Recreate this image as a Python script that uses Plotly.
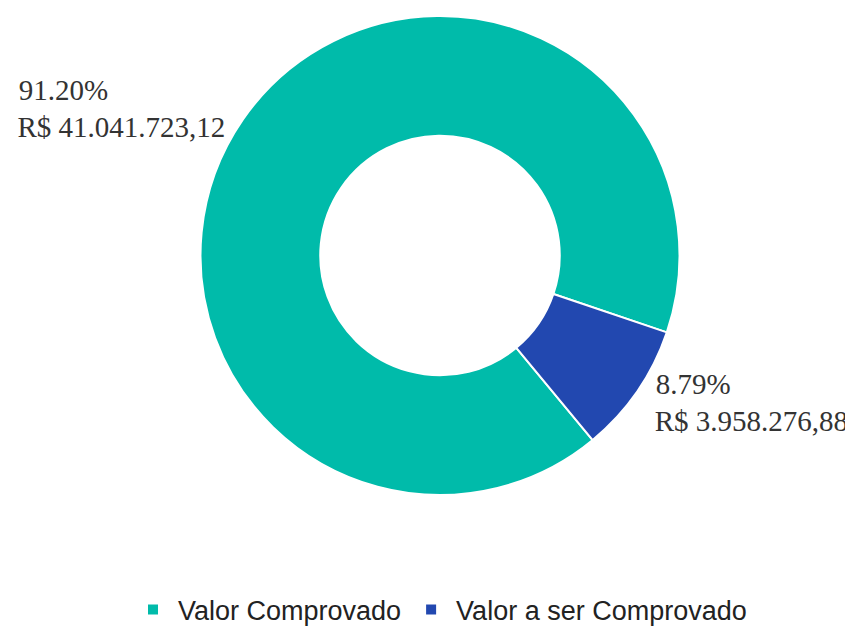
import plotly.graph_objects as go
import math

labels = ["Valor Comprovado", "Valor a ser Comprovado"]
values = [41041723.12, 3958276.88]
colors = ["#00BBAA", "#2248B0"]

total = sum(values)

def brl(v):
    s = f"{v:,.2f}"
    s = s.replace(",", "X").replace(".", ",").replace("X", ".")
    return "R$ " + s

def pct(v):
    p = math.floor(v / total * 10000) / 100
    return f"{p:.2f}%"

PAD = "\u00a0" * 16  # keeps both lines left-aligned
texts = [f"{pct(v)}{PAD}<br>{brl(v)}" for v in values]

fig = go.Figure(go.Pie(
    labels=labels,
    values=values,
    text=texts,
    texttemplate="%{text}",
    textinfo="text",
    textposition="outside",
    hole=0.5,
    sort=False,
    direction="clockwise",
    rotation=140.4,
    marker=dict(colors=colors, line=dict(color="white", width=2)),
    outsidetextfont=dict(family="Liberation Serif", size=29, color="#333333"),
    automargin=False,
    hoverinfo="label+value+percent",
))

fig.update_layout(
    width=853, height=627,
    margin=dict(l=11, r=0, t=8, b=131),
    paper_bgcolor="white",
    showlegend=True,
    legend=dict(
        orientation="h",
        x=0.5, xanchor="center",
        y=-0.24, yanchor="middle",
        font=dict(family="Liberation Sans", size=27, color="#222222"),
        itemwidth=40,
    ),
)

fig.write_html("out.html")
